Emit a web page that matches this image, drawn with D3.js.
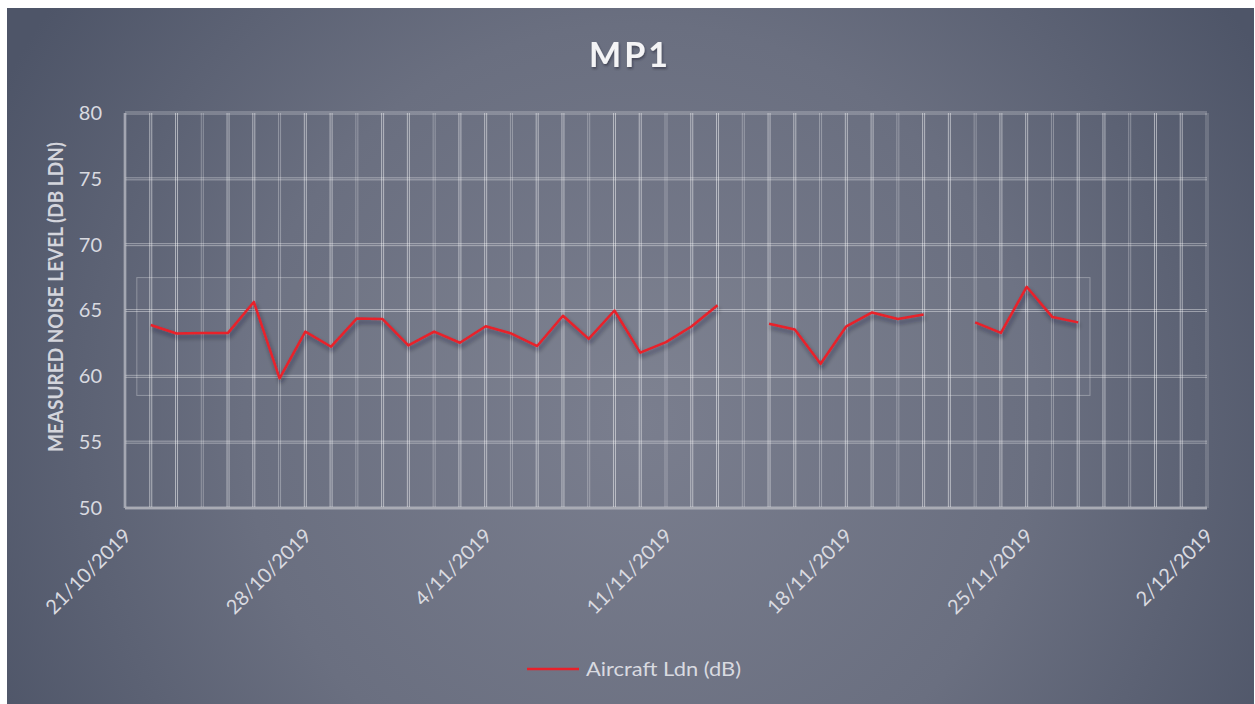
<!DOCTYPE html>
<html>
<head>
<meta charset="utf-8">
<script src="https://cdn.jsdelivr.net/npm/d3@7"></script>
<style>
  html, body { margin: 0; padding: 0; background: #ffffff; }
  svg { display: block; font-family: Lato, "Open Sans", sans-serif; }
</style>
</head>
<body>
<div id="chart"></div>
<script>
// daily Aircraft Ldn readings at MP1 (null = no reading that day)
var dates = ["2019-10-22","2019-10-23","2019-10-24","2019-10-25","2019-10-26","2019-10-27","2019-10-28",
             "2019-10-29","2019-10-30","2019-10-31","2019-11-01","2019-11-02","2019-11-03","2019-11-04",
             "2019-11-05","2019-11-06","2019-11-07","2019-11-08","2019-11-09","2019-11-10","2019-11-11",
             "2019-11-12","2019-11-13","2019-11-14","2019-11-15","2019-11-16","2019-11-17","2019-11-18",
             "2019-11-19","2019-11-20","2019-11-21","2019-11-22","2019-11-23","2019-11-24","2019-11-25",
             "2019-11-26","2019-11-27"];
var aircraftLdn = [63.9, 63.25, 63.3, 63.3, 65.65, 59.85, 63.4,
                   62.25, 64.4, 64.35, 62.35, 63.4, 62.55, 63.8,
                   63.25, 62.3, 64.6, 62.85, 65.0, 61.8, 62.6,
                   63.8, 65.4, null, 64.0, 63.55, 60.95, 63.8,
                   64.85, 64.35, 64.7, null, 64.1, 63.3, 66.8,
                   64.5, 64.1];

var xDomain = ["2019-10-21", "2019-12-02"];
var xTickLabels = ["21/10/2019","28/10/2019","4/11/2019","11/11/2019","18/11/2019","25/11/2019","2/12/2019"];
var yTicks = [50, 55, 60, 65, 70, 75, 80];
// faint highlight box drawn on the chart (days from start, dB range)
var boxDays = [0.47, 37.45];
var boxLevels = [58.55, 67.5];

var W = 1255, H = 704;
var margin = {top: 113, right: 48, bottom: 196, left: 125},
    width = W - margin.left - margin.right,
    height = H - margin.top - margin.bottom;

var parse = d3.utcParse("%Y-%m-%d");
var data = dates.map(function(d, i){ return {date: parse(d), value: aircraftLdn[i]}; });

var svg = d3.select("#chart")
            .append("svg")
            .attr("width", W)
            .attr("height", H);

var defs = svg.append("defs");

var bg = defs.append("radialGradient")
             .attr("id", "bg")
             .attr("gradientUnits", "userSpaceOnUse")
             .attr("cx", 640).attr("cy", 420).attr("r", 720);
bg.append("stop").attr("offset", "0%").attr("stop-color", "#7a7e8e");
bg.append("stop").attr("offset", "55%").attr("stop-color", "#6a6f80");
bg.append("stop").attr("offset", "100%").attr("stop-color", "#4e5568");

var shadow = defs.append("filter")
                 .attr("id", "shadow")
                 .attr("x", "-10%").attr("y", "-30%")
                 .attr("width", "120%").attr("height", "160%");
shadow.append("feDropShadow")
      .attr("dx", 1.5).attr("dy", 3.5)
      .attr("stdDeviation", 2)
      .attr("flood-color", "#1a1d28")
      .attr("flood-opacity", 0.45);

var titleShadow = defs.append("filter").attr("id", "tshadow");
titleShadow.append("feDropShadow")
      .attr("dx", 1).attr("dy", 2)
      .attr("stdDeviation", 1.2)
      .attr("flood-color", "#20232e")
      .attr("flood-opacity", 0.5);

svg.append("rect")
   .attr("x", 7).attr("y", 8)
   .attr("width", W - 8).attr("height", H - 8)
   .attr("fill", "url(#bg)");

var x = d3.scaleUtc()
          .domain(xDomain.map(parse))
          .range([0, width]);

var y = d3.scaleLinear()
          .domain([50, 80])
          .range([height, 0]);

var g = svg.append("g")
           .attr("transform", "translate(" + margin.left + "," + margin.top + ")");

// daily vertical gridlines, drawn doubled like the original
var days = d3.utcDay.range(x.domain()[0], d3.utcDay.offset(x.domain()[1], 1));
[-1, 1].forEach(function(off){
  g.append("g").attr("class", "vgrid")
   .selectAll("line")
   .data(days)
   .enter()
   .append("line")
   .attr("x1", function(d){ return x(d) + off; })
   .attr("x2", function(d){ return x(d) + off; })
   .attr("y1", 0)
   .attr("y2", height)
   .attr("stroke", "#ffffff")
   .attr("stroke-opacity", function(d, i){ return i % 3 == 0 ? 0.3 : 0.5; })
   .attr("stroke-width", 1);
});

[-1, 1].forEach(function(off){
  g.append("g").attr("class", "hgrid")
   .selectAll("line")
   .data(yTicks)
   .enter()
   .append("line")
   .attr("x1", 0)
   .attr("x2", width)
   .attr("y1", function(d){ return y(d) + off; })
   .attr("y2", function(d){ return y(d) + off; })
   .attr("stroke", "#ffffff")
   .attr("stroke-opacity", 0.4)
   .attr("stroke-width", 1);
});

// faint box
var day0 = x.domain()[0];
function dayX(n){ return x(d3.utcHour.offset(day0, Math.round(n * 24))); }
g.append("rect")
 .attr("x", dayX(boxDays[0]))
 .attr("y", y(boxLevels[1]))
 .attr("width", dayX(boxDays[1]) - dayX(boxDays[0]))
 .attr("height", y(boxLevels[0]) - y(boxLevels[1]))
 .attr("fill", "#ffffff")
 .attr("fill-opacity", 0.03)
 .attr("stroke", "#ffffff")
 .attr("stroke-opacity", 0.3)
 .attr("stroke-width", 1);

// axis lines
g.append("line")
 .attr("x1", 0).attr("x2", 0).attr("y1", 0).attr("y2", height)
 .attr("stroke", "#b4b6bf").attr("stroke-width", 1.5);
g.append("line")
 .attr("x1", 0).attr("x2", width).attr("y1", height).attr("y2", height)
 .attr("stroke", "#a9abb4").attr("stroke-width", 2);

// y tick labels
var yAxis = d3.axisLeft(y).tickValues(yTicks).tickSize(0).tickPadding(23);
g.append("g")
 .attr("class", "y axis")
 .call(yAxis)
 .call(function(s){ s.select(".domain").remove(); })
 .selectAll("text")
 .attr("fill", "#d9dae0")
 .attr("font-size", 20)
 .attr("font-family", "Lato, sans-serif");

// x tick labels, rotated
var xTicks = d3.utcDay.range(x.domain()[0], d3.utcDay.offset(x.domain()[1], 1), 7);
var xAxis = d3.axisBottom(x)
              .tickValues(xTicks)
              .tickSize(0)
              .tickFormat(function(d, i){ return xTickLabels[i]; });
g.append("g")
 .attr("class", "x axis")
 .attr("transform", "translate(0," + height + ")")
 .call(xAxis)
 .call(function(s){ s.select(".domain").remove(); })
 .selectAll("text")
 .attr("fill", "#d9dae0")
 .attr("font-size", 20)
 .attr("font-family", "Lato, sans-serif")
 .attr("text-anchor", "end")
 .attr("dy", null)
 .attr("y", 0)
 .attr("transform", "translate(7,29) rotate(-45)");

// the series
var line = d3.line()
             .defined(function(d){ return d.value != null; })
             .x(function(d){ return x(d.date); })
             .y(function(d){ return y(d.value); });

g.append("path")
 .datum(data)
 .attr("d", line)
 .attr("fill", "none")
 .attr("stroke", "#e8202a")
 .attr("stroke-width", 2.5)
 .attr("stroke-linejoin", "round")
 .attr("filter", "url(#shadow)");

// title
svg.append("text")
   .attr("x", 630)
   .attr("y", 67)
   .attr("text-anchor", "middle")
   .attr("font-size", 34)
   .attr("font-weight", "bold")
   .attr("letter-spacing", 3)
   .attr("fill", "#f4f4f6")
   .attr("filter", "url(#tshadow)")
   .text("MP1");

// y axis title
svg.append("text")
   .attr("transform", "translate(63,297) rotate(-90)")
   .attr("text-anchor", "middle")
   .attr("font-size", 20)
   .attr("font-weight", "bold")
   .attr("fill", "#d4d5dc")
   .attr("textLength", 310)
   .attr("lengthAdjust", "spacingAndGlyphs")
   .text("MEASURED NOISE LEVEL (DB LDN)");

// legend
var legend = svg.append("g").attr("transform", "translate(527,669)");
legend.append("line")
      .attr("x1", 0).attr("x2", 52)
      .attr("y1", 0).attr("y2", 0)
      .attr("stroke", "#e8202a")
      .attr("stroke-width", 2.5);
legend.append("text")
      .attr("x", 59)
      .attr("y", 7)
      .attr("font-size", 20)
      .attr("fill", "#d9dae0")
      .attr("textLength", 155)
      .attr("lengthAdjust", "spacingAndGlyphs")
      .text("Aircraft Ldn (dB)");
</script>
</body>
</html>
